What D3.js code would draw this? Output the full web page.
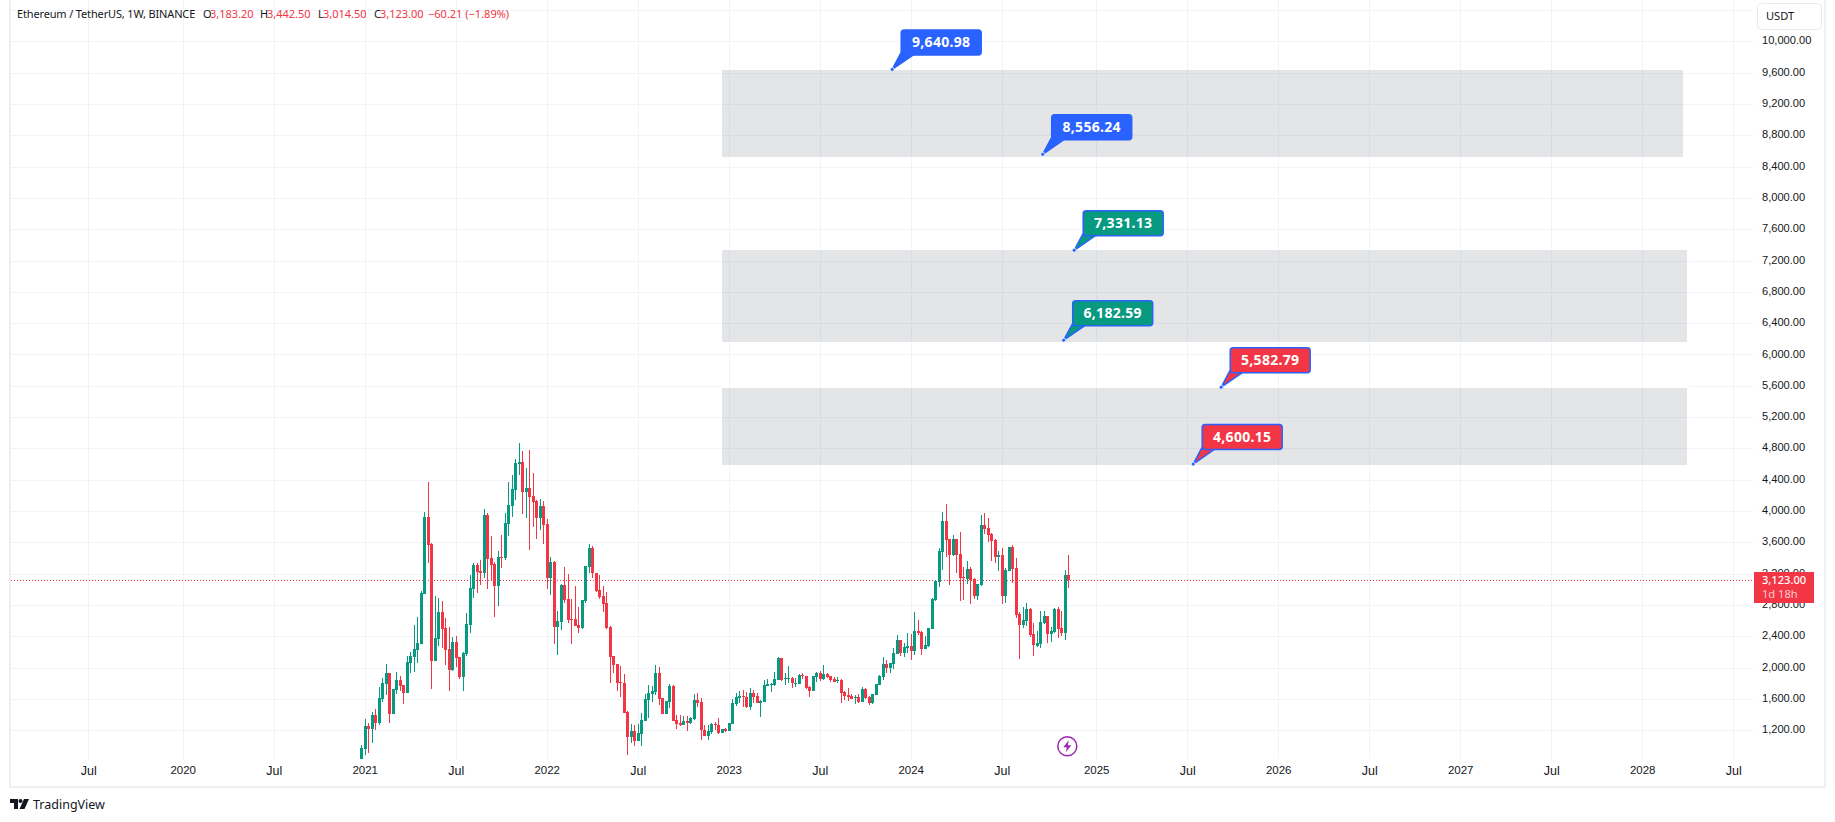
<!DOCTYPE html>
<html>
<head>
<meta charset="utf-8">
<script src="https://cdnjs.cloudflare.com/ajax/libs/d3/7.8.5/d3.min.js"></script>
<style>
    html, body { margin: 0; padding: 0; background: #fff; overflow: hidden; }
    svg { display: block; font-family: "Noto Sans", sans-serif; }
    .axis text { font-size: 11.1px; fill: #131722; }
    .axis path, .axis line { display: none; }
</style>
</head>
<body>
<div id="chart"></div>
<script>
// weekly candles, first one is the week of 2020-12-28
var opens = [737,962,1256,1222,1396,1290,1605,1792,1933,1413,1716,1843,1775,1681,2065,2141,2226,2307,2946,3925,3580,2090,2371,2712,2503,2239,1967,2328,2133,1882,2175,2550,3010,3312,3231,3210,3950,3401,3325,3048,3414,3401,3840,4070,4274,4606,4627,4248,4295,4193,4133,3916,4065,3835,3150,3350,2524,2588,3056,2878,2622,2622,2546,2503,2852,3291,3529,3210,2993,2916,2827,2520,2150,2048,1818,1805,1435,1120,1192,1064,1158,1324,1592,1669,1694,1933,1613,1413,1567,1767,1332,1290,1268,1320,1298,1350,1588,1562,1209,1132,1183,1281,1268,1171,1217,1196,1286,1537,1609,1639,1626,1498,1673,1639,1553,1562,1767,1775,1775,1843,2120,1856,1856,1868,1788,1792,1911,1894,1754,1707,1886,1928,1851,1920,1890,1851,1834,1843,1690,1647,1639,1617,1626,1562,1724,1626,1549,1651,1783,1877,2047,1996,2047,2175,2354,2183,2256,2273,2213,2469,2460,2239,2281,2498,2865,3099,3482,3873,3643,3439,3643,3452,3158,3133,3260,3133,2916,3056,3822,3780,3707,3631,3414,3439,2916,3235,3541,3273,2686,2545,2601,2750,2430,2281,2303,2567,2660,2430,2456,2750,2507,2443,3183.2];
var highs = [1013,1345,1290,1435,1469,1758,1869,2048,1935,1727,1941,1894,1777,2150,2205,2546,2648,2980,3989,4372,3589,2916,2886,2852,2635,2524,2392,2405,2141,2201,2699,3188,3342,3333,3376,4027,3976,3682,3354,3491,3695,3976,4376,4461,4666,4870,4768,4551,4781,4483,4142,4155,4129,3899,3414,3359,2724,3069,3286,3197,2878,3044,2775,2867,3301,3580,3555,3212,3184,3044,2967,2533,2152,2050,2022,1920,1447,1281,1268,1281,1422,1664,1780,1767,2035,2009,1615,1577,1792,1779,1396,1396,1383,1384,1371,1664,1677,1613,1268,1268,1294,1307,1358,1219,1230,1296,1600,1677,1707,1715,1694,1737,1715,1681,1588,1843,1851,1800,1949,2141,2128,1928,2022,1877,1864,1920,1937,1896,1766,1896,1949,1958,2030,1937,1898,1885,1877,1851,1707,1737,1660,1651,1660,1750,1741,1639,1662,1794,1907,2132,2098,2064,2247,2413,2356,2311,2439,2430,2707,2605,2469,2405,2509,2890,3116,3524,3988,4090,3645,3695,3645,3729,3282,3362,3282,3141,3069,3950,3971,3907,3724,3643,3490,3524,3273,3543,3567,3401,2711,2775,2826,2762,2571,2469,2728,2724,2662,2520,2762,2775,2724,3248,3442.5];
var lows = [715,885,915,1043,1205,1269,1566,1652,1294,1411,1664,1707,1537,1679,1937,1945,2065,2305,2944,3342,1733,2088,2277,2256,2035,1707,1958,2014,1852,1707,2150,2448,2895,2959,3056,3142,3010,3112,2652,2793,3278,3376,3687,3921,4146,4466,3967,3916,3508,3801,3648,3763,3584,3010,2933,2307,2167,2486,2831,2575,2307,2535,2448,2495,2822,3214,3150,2967,2878,2716,2495,1809,1928,1707,1630,1424,890,1043,1005,1062,1005,1322,1358,1562,1652,1524,1411,1411,1486,1322,1222,1256,1266,1196,1281,1332,1498,1077,1130,1077,1154,1205,1158,1162,1183,1194,1284,1511,1545,1503,1490,1460,1545,1545,1375,1560,1765,1694,1766,1841,1830,1779,1800,1741,1758,1790,1851,1724,1630,1705,1817,1834,1843,1864,1822,1813,1809,1553,1588,1579,1596,1541,1553,1560,1600,1528,1541,1649,1775,1843,1928,1928,1988,2173,2150,2132,2192,2098,2162,2422,2162,2235,2260,2496,2856,3035,3248,3418,3056,3426,3214,2856,2865,3069,2813,2881,2865,3048,3707,3610,3363,3333,3231,2813,2826,3233,3086,2635,2111,2503,2533,2396,2149,2260,2256,2558,2315,2328,2447,2379,2405,2354,3014.5];
var closes = [971,1256,1222,1396,1298,1613,1801,1933,1413,1724,1843,1767,1681,2073,2145,2239,2312,2954,3925,3567,2090,2375,2712,2495,2231,1975,2328,2128,1886,2188,2558,3018,3312,3227,3210,3950,3393,3312,3048,3414,3401,3848,4078,4283,4615,4627,4248,4295,4185,4121,3916,4065,3827,3150,3350,2524,2597,3056,2869,2614,2614,2537,2512,2865,3299,3529,3206,2980,2907,2818,2507,2141,2039,1809,1805,1426,1120,1192,1064,1166,1332,1601,1677,1703,1933,1605,1413,1575,1767,1324,1281,1268,1320,1298,1358,1588,1549,1209,1132,1192,1281,1268,1171,1217,1196,1294,1549,1626,1639,1630,1498,1673,1630,1553,1575,1775,1788,1788,1851,2128,1843,1868,1868,1800,1800,1911,1894,1741,1707,1894,1928,1856,1915,1881,1843,1822,1843,1681,1639,1630,1605,1626,1562,1724,1609,1553,1660,1792,1894,2047,1996,2056,2183,2354,2183,2264,2273,2213,2469,2443,2243,2290,2507,2877,3107,3490,3873,3631,3439,3643,3439,3150,3150,3260,3120,2916,3069,3822,3771,3695,3618,3414,3439,2916,3248,3541,3260,2673,2545,2609,2750,2417,2290,2315,2584,2660,2430,2469,2750,2494,2443,3183,3123];

var priceTicks = [10000,9600,9200,8800,8400,8000,7600,7200,6800,6400,6000,5600,5200,4800,4400,4000,3600,3200,2800,2400,2000,1600,1200];
var gridOnlyPrices = [10400];
var timeTicks = ["2019-07-01","2020-01-06","2020-07-06","2021-01-04","2021-07-05","2022-01-03","2022-07-04","2023-01-02","2023-07-03","2024-01-01","2024-07-01","2025-01-06","2025-07-07","2026-01-05","2026-07-06","2027-01-04","2027-07-05","2028-01-03","2028-07-03"];
var timeLabels = ["Jul","2020","Jul","2021","Jul","2022","Jul","2023","Jul","2024","Jul","2025","Jul","2026","Jul","2027","Jul","2028","Jul"];

// grey target zones
var zoneStarts = ["2022-12-20","2022-12-20","2022-12-20"];
var zoneEnds = ["2028-03-24","2028-04-02","2028-04-02"];
var zoneTops = [9634,7335,5576];
var zoneBottoms = [8526,6164,4589];

// callouts
var calloutDates = ["2023-11-25","2024-09-21","2024-11-23","2024-11-02","2025-09-13","2025-07-19"];
var calloutPrices = [9640.98,8556.24,7331.13,6182.59,5582.79,4600.15];
var calloutFills = ["#2962ff","#2962ff","#089981","#089981","#f23645","#f23645"];

var lastPrice = 3123;
var UP = "#089981", DOWN = "#f23645", GRID = "#f0f3fa", BLUE = "#2962ff", TEXT = "#131722";

var width = 1835, height = 822;
var parseDay = d3.utcParse("%Y-%m-%d");
var PRICEFORMAT = d3.format(",.2f");

var weeks = d3.utcMonday.range(new Date(Date.UTC(2020, 11, 28)), new Date(Date.UTC(2024, 10, 12)));

var xScale = d3.scaleUtc().domain([parseDay("2019-07-01"), parseDay("2028-07-03")]).range([88.2, 1733.2]);
var yScale = d3.scaleLinear().domain([10000, 1200]).range([41.3, 730.3]);

var svg = d3.select("#chart").append("svg")
    .attr("width", width)
    .attr("height", height);

svg.append("clipPath").attr("id", "pane")
    .append("rect").attr("x", 11).attr("y", 0).attr("width", 1742).attr("height", 759);

function crisp(v) { return Math.round(v) + 0.5; }

///////////////////////// GRID //////////////////////////
var grid = svg.append("g").attr("shape-rendering", "crispEdges");

grid.selectAll(".hgrid")
    .data(priceTicks.concat(gridOnlyPrices))
    .enter().append("line")
    .attr("x1", 11).attr("x2", 1753)
    .attr("y1", function(d) { return crisp(yScale(d)); })
    .attr("y2", function(d) { return crisp(yScale(d)); })
    .attr("stroke", GRID);

grid.selectAll(".vgrid")
    .data(timeTicks)
    .enter().append("line")
    .attr("y1", 0).attr("y2", 759)
    .attr("x1", function(d) { return crisp(xScale(parseDay(d))); })
    .attr("x2", function(d) { return crisp(xScale(parseDay(d))); })
    .attr("stroke", GRID);

// pane border
var border = svg.append("g").attr("fill", "#eff0f5").attr("shape-rendering", "crispEdges");
border.append("rect").attr("x", 9).attr("y", 0).attr("width", 2).attr("height", 788);
border.append("rect").attr("x", 1824).attr("y", 0).attr("width", 2).attr("height", 788);
border.append("rect").attr("x", 9).attr("y", 786).attr("width", 1817).attr("height", 2);

///////////////////////// ZONES //////////////////////////
var zone = svg.append("g").attr("shape-rendering", "crispEdges").selectAll("g")
    .data(zoneStarts)
    .enter().append("g");

zone.append("rect")
    .attr("x", function(d) { return xScale(parseDay(d)); })
    .attr("width", function(d, i) { return xScale(parseDay(zoneEnds[i])) - xScale(parseDay(d)); })
    .attr("y", function(d, i) { return yScale(zoneTops[i]); })
    .attr("height", function(d, i) { return yScale(zoneBottoms[i]) - yScale(zoneTops[i]); })
    .attr("fill", "rgba(120,123,134,0.2)");

// thin white halo round each zone, it breaks the grid lines
zone.append("rect")
    .attr("x", function(d) { return xScale(parseDay(d)) - 1; })
    .attr("width", function(d, i) { return xScale(parseDay(zoneEnds[i])) - xScale(parseDay(d)) + 2; })
    .attr("y", function(d, i) { return yScale(zoneTops[i]) - 1; })
    .attr("height", function(d, i) { return yScale(zoneBottoms[i]) - yScale(zoneTops[i]) + 2; })
    .attr("fill", "none")
    .attr("stroke", "#fff");

///////////////////////// LAST PRICE LINE //////////////////////////
svg.append("line")
    .attr("x1", 11).attr("x2", 1753)
    .attr("y1", crisp(yScale(lastPrice))).attr("y2", crisp(yScale(lastPrice)))
    .attr("stroke", DOWN)
    .attr("stroke-dasharray", "1 2");

///////////////////////// CANDLES //////////////////////////
var candle = svg.append("g")
    .attr("clip-path", "url(#pane)")
    .attr("shape-rendering", "crispEdges")
    .selectAll("g")
    .data(weeks)
    .enter().append("g")
    .attr("fill", function(d, i) { return closes[i] >= opens[i] ? UP : DOWN; });

candle.append("rect")
    .attr("x", function(d) { return Math.round(xScale(d)); })
    .attr("width", 1)
    .attr("y", function(d, i) { return yScale(highs[i]); })
    .attr("height", function(d, i) { return yScale(lows[i]) - yScale(highs[i]); });

candle.append("rect")
    .attr("x", function(d) { return Math.round(xScale(d)) - 1; })
    .attr("width", 3)
    .attr("y", function(d, i) { return yScale(Math.max(opens[i], closes[i])); })
    .attr("height", function(d, i) { return Math.max(1, Math.abs(yScale(opens[i]) - yScale(closes[i]))); });

///////////////////////// CALLOUTS //////////////////////////
var callout = svg.append("g").selectAll("g")
    .data(calloutPrices)
    .enter().append("g")
    .attr("transform", function(d, i) {
        return "translate(" + xScale(parseDay(calloutDates[i])) + "," + yScale(d) + ")";
    });

callout.append("path")
    .attr("d", "M0,0L8.5,-16L21,-14.5Z")
    .attr("fill", function(d, i) { return calloutFills[i]; })
    .attr("stroke", BLUE)
    .attr("stroke-width", 1.5);

callout.append("rect")
    .attr("x", 9).attr("y", -39.5)
    .attr("width", 80).attr("height", 25)
    .attr("rx", 3)
    .attr("fill", function(d, i) { return calloutFills[i]; })
    .attr("stroke", BLUE)
    .attr("stroke-width", 1.5);

callout.append("circle")
    .attr("r", 2)
    .attr("fill", BLUE)
    .attr("stroke", "#fff")
    .attr("stroke-width", 0.75);

callout.append("text")
    .attr("x", 49).attr("y", -22.5)
    .attr("text-anchor", "middle")
    .attr("font-size", 14)
    .attr("font-weight", 700)
    .attr("letter-spacing", 0.3)
    .attr("fill", "#fff")
    .text(function(d) { return PRICEFORMAT(d); });

///////////////////////// AXES //////////////////////////
var yAxis = d3.axisRight(yScale)
    .tickValues(priceTicks)
    .tickSize(0)
    .tickPadding(0)
    .tickFormat(PRICEFORMAT);

svg.append("g")
    .attr("class", "axis")
    .attr("transform", "translate(1762,-1)")
    .call(yAxis);

var xAxis = d3.axisBottom(xScale)
    .tickValues(timeTicks.map(parseDay))
    .tickSize(0)
    .tickPadding(0)
    .tickFormat(function(d, i) { return timeLabels[i]; });

svg.append("g")
    .attr("class", "axis")
    .attr("transform", "translate(0,766)")
    .call(xAxis)
    .selectAll("text")
    .style("font-size", function(d, i) { return timeLabels[i] === "Jul" ? "12.5px" : "11.5px"; })
    .attr("font-weight", function(d, i) { return timeLabels[i] === "Jul" ? 400 : 500; })
    .attr("dy", "0.71em");

///////////////////////// LAST PRICE LABEL //////////////////////////
svg.append("rect")
    .attr("x", 1754).attr("y", 572)
    .attr("width", 60).attr("height", 31)
    .attr("fill", DOWN);

svg.append("text")
    .attr("x", 1762).attr("y", 584)
    .attr("font-size", 11.1)
    .attr("font-weight", 500)
    .attr("fill", "#fff")
    .text(PRICEFORMAT(lastPrice));

svg.append("text")
    .attr("x", 1762).attr("y", 598)
    .attr("font-size", 11.1)
    .attr("fill", "#fff")
    .attr("fill-opacity", 0.75)
    .text("1d 18h");

///////////////////////// HEADER //////////////////////////
var headerTexts = ["Ethereum / TetherUS, 1W, BINANCE","O","3,183.20","H","3,442.50","L","3,014.50","C","3,123.00","\u221260.21 (\u22121.89%)"];
var headerXs = [17,203,210,260,267,318,323,374,380,428];

svg.append("g").selectAll("text")
    .data(headerTexts)
    .enter().append("text")
    .attr("x", function(d, i) { return headerXs[i]; })
    .attr("y", 18)
    .attr("font-size", 11)
    .attr("letter-spacing", function(d, i) { return i === 0 ? -0.15 : 0; })
    .attr("fill", function(d, i) { return (i === 0 || (i % 2 === 1 && i < 9)) ? TEXT : DOWN; })
    .text(function(d) { return d; });

// USDT button
svg.append("rect")
    .attr("x", 1757.5).attr("y", 3.5)
    .attr("width", 64).attr("height", 26)
    .attr("rx", 4)
    .attr("fill", "#fff")
    .attr("stroke", "#e8eaf2");

svg.append("text")
    .attr("x", 1766).attr("y", 20)
    .attr("font-size", 11.1)
    .attr("fill", TEXT)
    .text("USDT");

///////////////////////// LIGHTNING BADGE //////////////////////////
var badge = svg.append("g").attr("transform", "translate(1067.3,746.3)");

badge.append("circle")
    .attr("r", 9.5)
    .attr("fill", "#fff")
    .attr("stroke", "#9c27b0")
    .attr("stroke-width", 1.5);

badge.append("path")
    .attr("d", "M1.5,-6L-4,1H-0.5L-1.5,6L4,-1H0.5Z")
    .attr("fill", "#9c27b0");

///////////////////////// LOGO //////////////////////////
var logo = svg.append("g").attr("fill", TEXT).attr("transform", "translate(10,799)");
logo.append("path").attr("d", "M0,0H8V10H4V4H0Z");
logo.append("circle").attr("cx", 10.5).attr("cy", 2).attr("r", 2);
logo.append("path").attr("d", "M14,0H19L14.5,10H9.5Z");

svg.append("text")
    .attr("x", 33).attr("y", 809)
    .attr("font-size", 12.5)
    .attr("fill", TEXT)
    .text("TradingView");
</script>
</body>
</html>
